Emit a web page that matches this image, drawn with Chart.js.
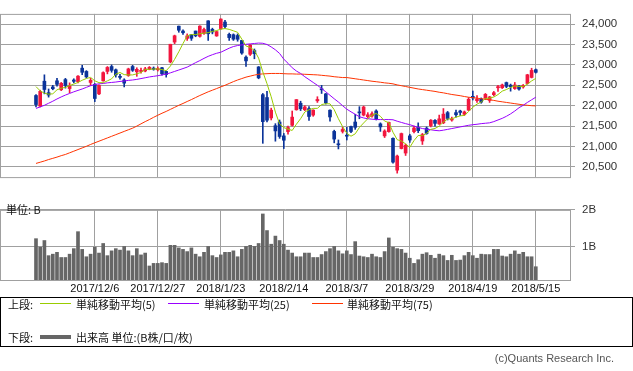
<!DOCTYPE html>
<html>
<head>
  <meta charset="UTF-8">
  <title>株価チャート</title>
  <script src="https://cdn.jsdelivr.net/npm/chart.js"></script>
  <style>
    body {
      margin: 0;
      width: 633px;
      height: 371px;
      position: relative;
      background: #fff;
      overflow: hidden;
      font-family: 'Noto Sans CJK JP', sans-serif;
    }
    canvas { position: absolute; left: 0; }
    .t {
      position: absolute;
      font-size: 11px;
      line-height: 14px;
      color: #111;
      white-space: nowrap;
    }
    #keys { position: absolute; left: 0; top: 0; }
  </style>
</head>
<body>
  <canvas id="price" width="633" height="191" style="top:0"></canvas>
  <canvas id="vol" width="633" height="102" style="top:196px"></canvas>

  <div class="t" style="left:6px; top:202px;">単位: B</div>

  <svg id="keys" width="633" height="371" shape-rendering="crispEdges">
    <rect x="0.5" y="297.5" width="632" height="49" fill="none" stroke="#000" stroke-width="1"/>
    <line x1="40" y1="303.5" x2="71" y2="303.5" stroke="#99cc00" stroke-width="1"/>
    <line x1="168" y1="303.5" x2="199" y2="303.5" stroke="#9900ff" stroke-width="1"/>
    <line x1="312" y1="303.5" x2="343" y2="303.5" stroke="#ff3300" stroke-width="1"/>
    <line x1="40" y1="337" x2="71" y2="337" stroke="#666666" stroke-width="4"/>
  </svg>

  <div class="t" style="left:8px; top:297px;">上段:</div>
  <div class="t" style="left:76px; top:297px;">単純移動平均(5)</div>
  <div class="t" style="left:204px; top:297px;">単純移動平均(25)</div>
  <div class="t" style="left:347px; top:297px;">単純移動平均(75)</div>
  <div class="t" style="left:8px; top:330px;">下段:</div>
  <div class="t" style="left:76px; top:330px;">出来高 単位:(B株/口/枚)</div>
  <div class="t" style="right:19px; top:351px; color:#555; font-family:'Liberation Sans', Arial, sans-serif;">(c)Quants Research Inc.</div>

  <script>
    // 目盛り
    const tickIdx = [14, 29, 44, 59, 74, 89, 104, 119];
    const tickLabels = ['2017/12/6', '2017/12/27', '2018/1/23', '2018/2/14', '2018/3/7', '2018/3/29', '2018/4/19', '2018/5/15'];
    const priceTicks = [20500, 21000, 21500, 22000, 22500, 23000, 23500, 24000];
    const volTicks = [1, 2];

    // 四本値 (2017/11/15 - 2018/5/15)
    const openP = [22250,21990,22600,22320,22460,22610,22390,22640,22420,22630,
      22590,22920,22840,22570,22525,22290,22610,22840,22960,22880,
      22720,22630,22740,22960,22830,22840,22850,22890,22920,22880,
      22930,22840,23073,23560,23950,23830,23650,23740,23830,23700,
      23770,24080,23870,23710,23890,24050,23750,23740,23720,23600,
      23190,23260,23350,22950,22270,22200,21700,21510,21600,21260,
      21365,21520,21900,22060,21900,21930,21770,22120,22410,22290,
      21890,21370,21060,21370,21270,21490,21600,21840,21770,21730,
      21750,21870,21555,21260,21365,21200,20420,20950,20840,21260,
      21365,21470,21135,21449,21512,21640,21555,21580,21830,21650,
      21830,21870,21790,21890,22230,22124,22166,22190,22130,22270,
      22440,22440,22567,22503,22420,22482,22461,22545,22693,22883];
    const highP = [22270,22380,22757,22410,22500,22670,22570,22670,22560,22660,
      22740,22990,22860,22670,22545,22510,22830,22960,23000,22900,
      22770,22660,22920,22990,22930,22920,22940,22960,22950,22950,
      22940,22850,23506,23730,23952,23860,23760,23750,23830,23960,
      23900,24084,23900,23830,24129,24090,23780,23760,23760,23600,
      23220,23500,23390,22960,22300,22353,21940,21560,21650,21320,
      21500,21870,22150,22110,22000,21980,21900,22220,22500,22300,
      21900,21400,21160,21470,21470,21500,21790,21976,21990,21830,
      21850,21900,21580,21410,21600,21210,20790,21330,21060,21300,
      21500,21580,21320,21480,21660,21660,21770,21930,21860,21720,
      21890,21890,21870,22200,22360,22250,22190,22300,22230,22350,
      22500,22530,22580,22530,22570,22500,22520,22770,22918,22900];
    const lowP = [21972,21970,22290,22210,22390,22480,22370,22430,22320,22560,
      22560,22760,22680,22500,22100,22270,22600,22780,22820,22700,
      22650,22460,22720,22840,22720,22800,22830,22880,22870,22850,
      22750,22700,23050,23520,23800,23750,23600,23600,23690,23680,
      23750,23600,23760,23700,23870,23900,23600,23600,23580,23260,
      22960,23230,23150,22660,21078,21600,21650,21130,21200,20950,
      21300,21500,21890,21880,21880,21640,21740,22080,22300,22040,
      21620,21090,20940,21330,21160,21340,21420,21680,21750,21700,
      21720,21650,21370,21220,21350,20590,20347,20940,20780,21100,
      21330,21340,21050,21300,21480,21500,21540,21560,21650,21620,
      21720,21760,21760,21880,22140,22080,22060,22150,22080,22240,
      22350,22420,22440,22356,22400,22380,22430,22530,22680,22800];
    const closeP = [22028,22351,22397,22261,22416,22523,22550,22495,22486,22597,
      22724,22819,22707,22622,22177,22498,22811,22938,22866,22758,
      22694,22553,22901,22868,22891,22866,22902,22939,22892,22911,
      22783,22764,23506,23714,23849,23788,23710,23653,23714,23951,
      23868,23763,23808,23816,24124,23940,23669,23631,23629,23291,
      23098,23486,23274,22682,21610,21645,21890,21382,21245,21154,
      21464,21720,22149,21925,21970,21736,21892,22153,22389,22068,
      21724,21182,21042,21417,21253,21368,21469,21824,21968,21777,
      21803,21676,21480,21380,21591,20617,20766,21317,21031,21159,
      21454,21388,21292,21319,21645,21567,21678,21794,21687,21660,
      21778,21835,21847,22158,22191,22162,22088,22278,22215,22319,
      22467,22508,22472,22467,22508,22408,22497,22758,22865,22818];

    // 出来高 (B)
    const volume = [1.22,0.99,1.17,0.76,0.80,0.85,0.71,0.71,0.80,0.95,
      1.41,0.93,0.73,0.80,0.99,0.83,1.09,0.76,0.89,0.95,
      0.91,1.01,0.89,0.76,0.95,0.78,0.83,0.48,0.55,0.55,
      0.57,0.55,1.04,1.04,0.97,0.93,0.87,0.97,0.80,0.73,
      0.85,1.01,0.76,0.71,0.78,0.85,0.85,0.89,0.73,0.93,
      1.01,1.04,1.01,1.09,1.89,1.44,1.07,1.29,1.17,1.07,
      0.91,0.83,0.73,0.73,0.83,0.83,0.71,0.71,0.79,0.87,
      0.95,1.01,0.89,0.81,0.89,0.79,1.14,0.75,0.73,0.71,
      0.80,0.73,0.71,0.87,1.24,0.99,0.95,0.93,0.83,0.69,
      0.55,0.65,0.80,0.84,0.77,0.69,0.80,0.76,0.63,0.77,
      0.63,0.64,0.76,0.85,0.76,0.69,0.80,0.79,0.79,0.93,
      0.93,0.75,0.73,0.80,0.89,0.80,0.85,0.73,0.73,0.46];

    // 移動平均
    const ma5 = [22468,22364,22307,22283,22291,22390,22429,22449,22494,22530,
      22570,22624,22667,22694,22610,22565,22563,22609,22658,22774,
      22813,22762,22754,22755,22781,22816,22886,22893,22898,22902,
      22885,22858,22971,23136,23323,23524,23713,23743,23743,23763,
      23779,23790,23821,23841,23876,23890,23871,23836,23799,23632,
      23464,23427,23356,23166,22830,22539,22220,21842,21554,21463,
      21427,21393,21546,21682,21846,21900,21934,21935,22028,22048,
      22045,21903,21681,21487,21324,21252,21310,21466,21576,21681,
      21768,21810,21741,21623,21586,21349,21167,21134,21064,20978,
      21145,21270,21265,21322,21420,21442,21500,21601,21674,21677,
      21719,21751,21761,21856,21962,22039,22089,22175,22187,22212,
      22273,22357,22396,22447,22484,22473,22470,22528,22607,22669];
    const ma25 = [21934,21970,22010,22060,22110,22165,22215,22260,22300,22340,
      22375,22410,22450,22490,22520,22535,22545,22560,22570,22580,
      22595,22605,22620,22630,22645,22665,22685,22705,22720,22735,
      22755,22775,22805,22840,22875,22910,22946,23000,23055,23105,
      23160,23210,23250,23285,23310,23360,23410,23450,23475,23490,
      23505,23515,23525,23535,23530,23500,23440,23370,23280,23140,
      23040,22930,22850,22790,22710,22640,22570,22500,22420,22340,
      22255,22170,22090,22000,21915,21850,21790,21730,21700,21680,
      21670,21660,21660,21660,21660,21655,21620,21590,21560,21535,
      21500,21470,21440,21425,21410,21395,21385,21400,21420,21440,
      21460,21480,21500,21520,21534,21545,21560,21570,21580,21610,
      21650,21690,21740,21800,21870,21950,22010,22080,22145,22208];
    const ma75 = [20585,20615,20645,20680,20710,20740,20775,20805,20845,20885,
      20925,20965,21005,21050,21091,21130,21170,21210,21250,21290,
      21330,21370,21410,21449,21500,21555,21610,21660,21715,21766,
      21815,21860,21910,21960,22010,22055,22103,22150,22200,22250,
      22295,22340,22380,22420,22461,22500,22545,22590,22630,22665,
      22700,22725,22750,22770,22780,22785,22790,22790,22790,22785,
      22780,22780,22775,22775,22770,22765,22760,22755,22745,22735,
      22725,22710,22700,22690,22690,22675,22660,22645,22630,22615,
      22600,22588,22575,22560,22550,22535,22510,22490,22470,22450,
      22430,22410,22395,22380,22365,22350,22330,22315,22295,22275,
      22260,22245,22225,22208,22195,22185,22170,22160,22145,22130,
      22110,22095,22080,22065,22050,22035,22020,22010,22000,21995];

    const UP = '#f2163e', DOWN = '#0b3399', GRID = '#a0a0a0';
    const numFont = { family: "'Liberation Sans', Arial, sans-serif", size: 11 };
    const xMin = -8.571, xMax = 127.38;

    const colors = closeP.map((c, i) => c >= openP[i] ? UP : DOWN);
    const toPts = arr => arr.map((v, i) => ({ x: i, y: v }));

    // 枠線
    const frame = {
      id: 'frame',
      afterDraw(chart) {
        const a = chart.chartArea, ctx = chart.ctx;
        ctx.save();
        ctx.strokeStyle = GRID;
        ctx.lineWidth = 1;
        ctx.strokeRect(a.left + 0.5, a.top + 0.5, a.right - a.left - 1, a.bottom - a.top);
        ctx.restore();
      }
    };

    const xScale = (showLabels) => ({
      type: 'linear',
      min: xMin,
      max: xMax,
      offset: false,
      afterBuildTicks: s => { s.ticks = tickIdx.map(v => ({ value: v })); },
      afterFit: s => { s.height = showLabels ? 18 : 0; },
      ticks: {
        display: showLabels,
        autoSkip: false,
        maxRotation: 0,
        padding: 2,
        font: numFont,
        color: '#111',
        callback: v => tickLabels[tickIdx.indexOf(v)]
      },
      grid: { color: GRID, drawTicks: false, offset: false },
      border: { display: false }
    });

    new Chart(document.getElementById('price'), {
      type: 'bar',
      data: {
        datasets: [
          { type: 'line', data: toPts(ma5), borderColor: '#99cc00', borderWidth: 1, pointRadius: 0, tension: 0, order: 0 },
          { type: 'line', data: toPts(ma25), borderColor: '#9900ff', borderWidth: 1, pointRadius: 0, tension: 0, order: 0 },
          { type: 'line', data: toPts(ma75), borderColor: '#ff3300', borderWidth: 1, pointRadius: 0, tension: 0, order: 0 },
          {
            data: closeP.map((c, i) => ({ x: i, y: [lowP[i], highP[i]] })),
            backgroundColor: colors, barThickness: 1, grouped: false, order: 2
          },
          {
            data: closeP.map((c, i) => ({ x: i, y: [Math.min(openP[i], c), Math.max(openP[i], c)] })),
            backgroundColor: colors, barThickness: 3, minBarLength: 1, grouped: false, order: 1
          }
        ]
      },
      options: {
        responsive: false,
        animation: false,
        devicePixelRatio: 1,
        layout: { padding: { left: 0, right: 0, top: 0, bottom: 1 } },
        plugins: { legend: { display: false }, tooltip: { enabled: false } },
        scales: {
          x: xScale(false),
          y: {
            position: 'right',
            min: 20250,
            max: 24250,
            afterBuildTicks: s => { s.ticks = priceTicks.map(v => ({ value: v })); },
            afterFit: s => { s.width = 62; },
            ticks: { font: { ...numFont, size: 11.5 }, color: '#333', padding: 7, callback: v => v.toLocaleString('en-US') },
            grid: { color: GRID, tickLength: 4 },
            border: { display: false }
          }
        }
      },
      plugins: [frame]
    });

    new Chart(document.getElementById('vol'), {
      type: 'bar',
      data: {
        datasets: [{
          data: toPts(volume),
          backgroundColor: '#666666',
          barThickness: 3,
          grouped: false
        }]
      },
      options: {
        responsive: false,
        animation: false,
        devicePixelRatio: 1,
        layout: { padding: { left: 0, right: 0, top: 6, bottom: 0 } },
        plugins: { legend: { display: false }, tooltip: { enabled: false } },
        scales: {
          x: xScale(true),
          y: {
            position: 'right',
            min: 0.1,
            max: 2,
            afterBuildTicks: s => { s.ticks = volTicks.map(v => ({ value: v })); },
            afterFit: s => { s.width = 62; },
            ticks: { font: { ...numFont, size: 11.5 }, color: '#333', padding: 7, callback: v => v + 'B' },
            grid: { color: GRID, tickLength: 4 },
            border: { display: false }
          }
        }
      },
      plugins: [frame]
    });
  </script>
</body>
</html>
